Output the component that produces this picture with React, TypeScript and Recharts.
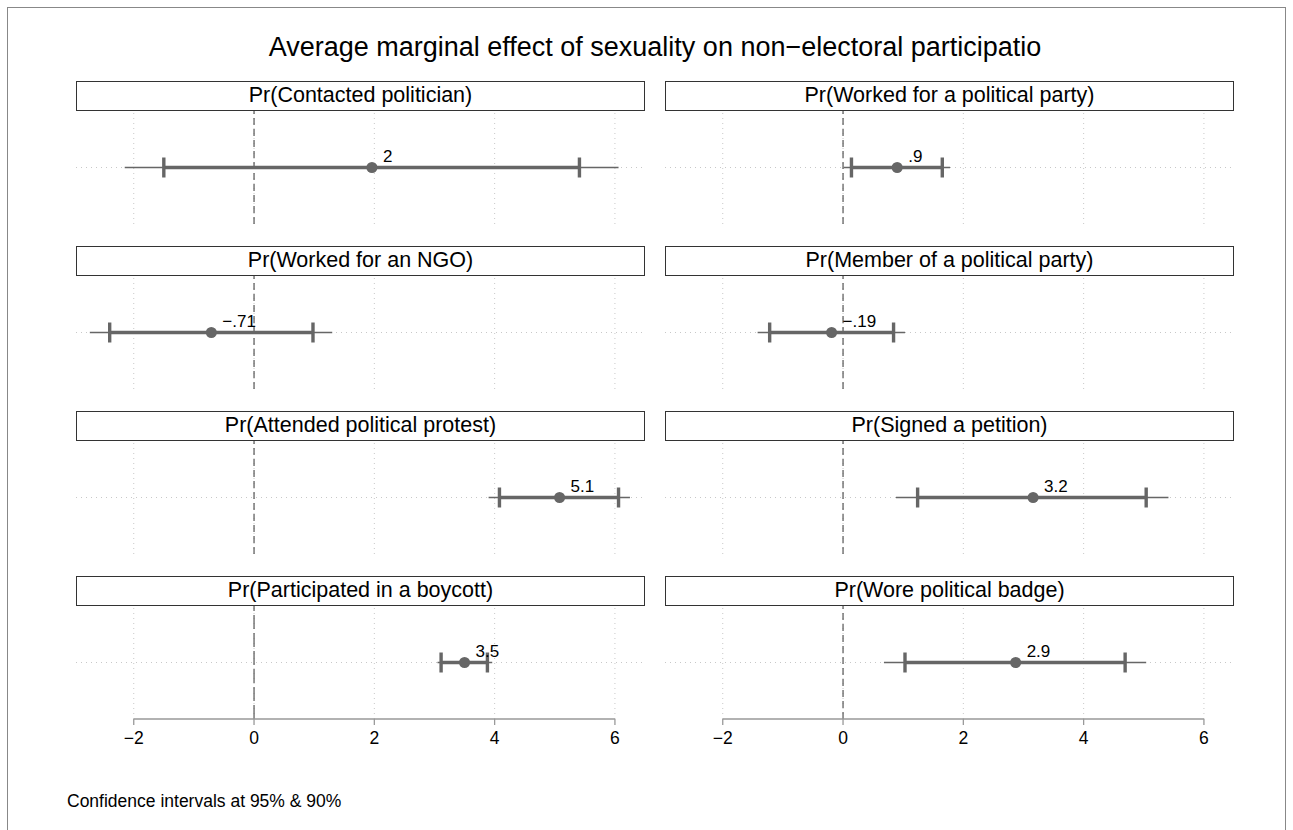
import React from "react";
import { ScatterChart, Scatter, XAxis, YAxis, ErrorBar, ReferenceLine } from "recharts";

// outcomes, in reading order (left-right, top-bottom)
const outcomes = [
  "Pr(Contacted politician)",
  "Pr(Worked for a political party)",
  "Pr(Worked for an NGO)",
  "Pr(Member of a political party)",
  "Pr(Attended political protest)",
  "Pr(Signed a petition)",
  "Pr(Participated in a boycott)",
  "Pr(Wore political badge)",
];
const estimates = [1.96, 0.9, -0.71, -0.19, 5.08, 3.16, 3.5, 2.87];
const estLabels = ["2", ".9", "\u2212.71", "\u2212.19", "5.1", "3.2", "3.5", "2.9"];
const lo95 = [-2.15, 0.01, -2.73, -1.42, 3.9, 0.88, 3.05, 0.68];
const hi95 = [6.06, 1.78, 1.3, 1.03, 6.25, 5.41, 3.96, 5.04];
const lo90 = [-1.5, 0.14, -2.4, -1.22, 4.08, 1.24, 3.11, 1.03];
const hi90 = [5.41, 1.65, 0.98, 0.84, 6.06, 5.04, 3.88, 4.69];
const xTicks = [-2, 0, 2, 4, 6];

const FONT = '"Liberation Sans", Arial, Helvetica, sans-serif';
const GREY = "#666666";
const PANEL_W = 569;
const PLOT_H = 113;
const AXIS_H = 40;
const colLeft = [76, 665];
const rowTop = [80.5, 245.5, 410.5, 575.5];

const fmtTick = (v: number) => (v < 0 ? "\u2212" + Math.abs(v) : String(v));

const Dot = (p: any) => (
  <g>
    <circle cx={p.cx} cy={p.cy} r={5.5} fill={GREY} />
    <text x={p.cx + 11} y={p.cy - 6} fontSize={17} fill="#000" fontFamily={FONT}>
      {p.payload.label}
    </text>
  </g>
);

function Panel({ i, showAxis }: { i: number; showAxis: boolean }) {
  const col = i % 2;
  const row = Math.floor(i / 2);
  const data = [
    {
      x: estimates[i],
      y: 1,
      label: estLabels[i],
      e95: [estimates[i] - lo95[i], hi95[i] - estimates[i]],
      e90: [estimates[i] - lo90[i], hi90[i] - estimates[i]],
    },
  ];
  return (
    <div style={{ position: "absolute", left: colLeft[col], top: rowTop[row], width: PANEL_W }}>
      <div
        style={{
          boxSizing: "border-box",
          height: 30,
          border: "1.3px solid #333",
          background: "#fff",
          textAlign: "center",
          fontSize: 21.5,
          lineHeight: "27px",
          color: "#000",
        }}
      >
        {outcomes[i]}
      </div>
      <ScatterChart
        width={PANEL_W}
        height={PLOT_H + (showAxis ? AXIS_H : 0)}
        margin={{ top: 0, right: 0, bottom: 0, left: 0 }}
      >
        <XAxis
          type="number"
          dataKey="x"
          domain={[-2.96, 6.5]}
          allowDataOverflow
          ticks={xTicks}
          interval={0}
          hide={!showAxis}
          height={AXIS_H}
          axisLine={false}
          tickLine={{ stroke: "#999", strokeWidth: 1.3 }}
          tickSize={6}
          tickMargin={7}
          tickFormatter={fmtTick}
          tick={{ fontSize: 17.5, fill: "#000", fontFamily: FONT }}
        />
        <YAxis type="number" dataKey="y" domain={[0, 2]} hide />
        {xTicks.map((t) => (
          <ReferenceLine key={t} x={t} stroke="#c8c8c8" strokeDasharray="1 4" />
        ))}
        <ReferenceLine y={1} stroke="#c8c8c8" strokeDasharray="1 4" />
        <ReferenceLine
          x={0}
          stroke="#555"
          strokeDasharray={i === 6 ? "14 4" : "7 4"}
          strokeWidth={1.2}
        />
        {showAxis && (
          <ReferenceLine
            segment={[
              { x: xTicks[0], y: 0 },
              { x: xTicks[xTicks.length - 1], y: 0 },
            ]}
            stroke="#999"
            strokeWidth={1.3}
          />
        )}
        <Scatter data={data} fill={GREY} shape={Dot} isAnimationActive={false}>
          <ErrorBar dataKey="e95" direction="x" width={0} stroke={GREY} strokeWidth={1.6} isAnimationActive={false} />
          <ErrorBar dataKey="e90" direction="x" width={10} stroke={GREY} strokeWidth={3.4} isAnimationActive={false} />
        </Scatter>
      </ScatterChart>
    </div>
  );
}

export default function App() {
  return (
    <div style={{ position: "relative", width: 1293, height: 830, fontFamily: FONT, background: "#fff" }}>
      <style>{"body{margin:0;overflow:hidden;background:#fff}"}</style>
      <div
        style={{
          position: "absolute",
          left: 7,
          top: 7,
          width: 1279,
          height: 900,
          border: "1px solid #888",
          boxSizing: "border-box",
        }}
      />
      <div
        style={{
          position: "absolute",
          left: 76,
          width: 1158,
          top: 32,
          textAlign: "center",
          fontSize: 27,
          lineHeight: "30px",
          color: "#000",
        }}
      >
        Average marginal effect of sexuality on non{"\u2212"}electoral participatio
      </div>
      {outcomes.map((_, i) => (
        <Panel key={i} i={i} showAxis={i >= 6} />
      ))}
      <div style={{ position: "absolute", left: 67, top: 790, fontSize: 17.5, lineHeight: "22px", color: "#000" }}>
        Confidence intervals at 95% &amp; 90%
      </div>
    </div>
  );
}
